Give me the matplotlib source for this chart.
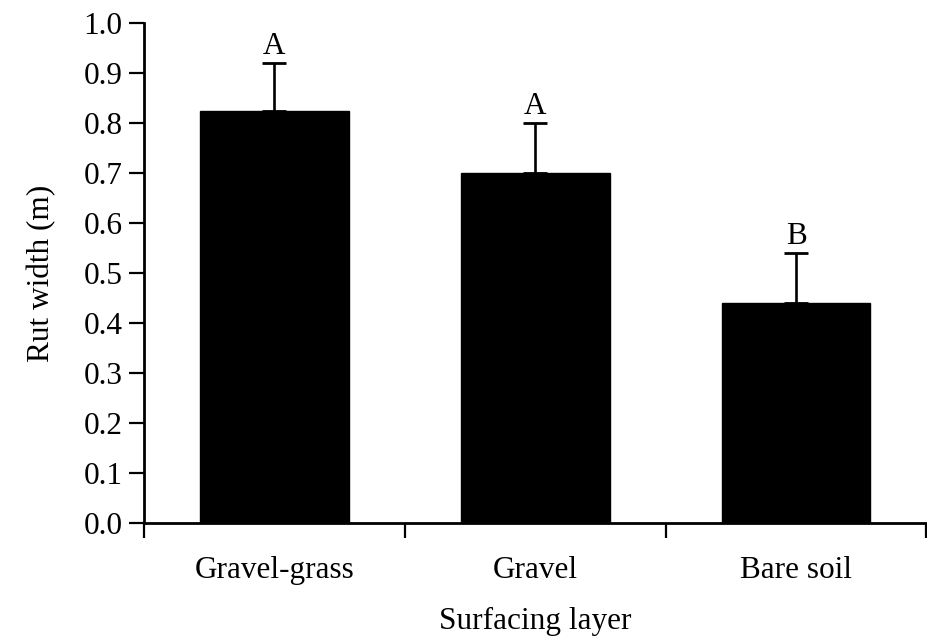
import matplotlib
matplotlib.use("Agg")
import matplotlib.pyplot as plt

categories = ["Gravel-grass", "Gravel", "Bare soil"]
means = [0.825, 0.70, 0.44]
errors = [0.095, 0.10, 0.10]
letters = ["A", "A", "B"]
yticks = [0.0, 0.1, 0.2, 0.3, 0.4, 0.5, 0.6, 0.7, 0.8, 0.9, 1.0]

plt.rcParams["font.family"] = ["Liberation Serif", "DejaVu Serif"]
FS = 22.5

fig = plt.figure(figsize=(9.28, 6.40), dpi=100)
W, H = 928, 640
left, right = 144.0 / W, 926.5 / W
bottom, top = 1 - 523.3 / H, 1 - 23.3 / H
ax = fig.add_axes([left, bottom, right - left, top - bottom])

x = list(range(len(categories)))
ax.bar(x, means, width=0.57, color="black", edgecolor="black", zorder=2)
ax.errorbar(x, means, yerr=[[0] * len(means), errors], fmt="none",
            ecolor="black", elinewidth=1.9, capsize=8.6, capthick=2.0, zorder=1)

for xi, m, e, lab in zip(x, means, errors, letters):
    ax.annotate(lab, xy=(xi, m + e), xytext=(0, 7.0), textcoords="offset points",
                ha="center", va="baseline", fontsize=FS)

ax.set_xlim(-0.5, 2.5)
ax.set_ylim(0, 1.0)
ax.set_yticks(yticks)
ax.set_yticklabels([f"{v:.1f}" for v in yticks])
ax.set_xticks(x)
ax.set_xticklabels(categories)
ax.set_xticks([-0.5, 0.5, 1.5, 2.5], minor=True)

for s in ["top", "right"]:
    ax.spines[s].set_visible(False)
for s in ["left", "bottom"]:
    ax.spines[s].set_linewidth(2.0)

ax.tick_params(axis="y", which="major", direction="out", length=10.8, width=1.6,
               pad=4.5, labelsize=FS)
ax.tick_params(axis="x", which="major", length=0, pad=23.5, labelsize=FS)
ax.tick_params(axis="x", which="minor", direction="out", length=10.8, width=1.6)

ax.set_ylabel("Rut width (m)", fontsize=FS)
ax.yaxis.set_label_coords(-0.112, 0.5)
ax.set_xlabel("Surfacing layer", fontsize=FS)
ax.xaxis.set_label_coords(0.5, -0.168)

fig.savefig("out.png", dpi=100)
